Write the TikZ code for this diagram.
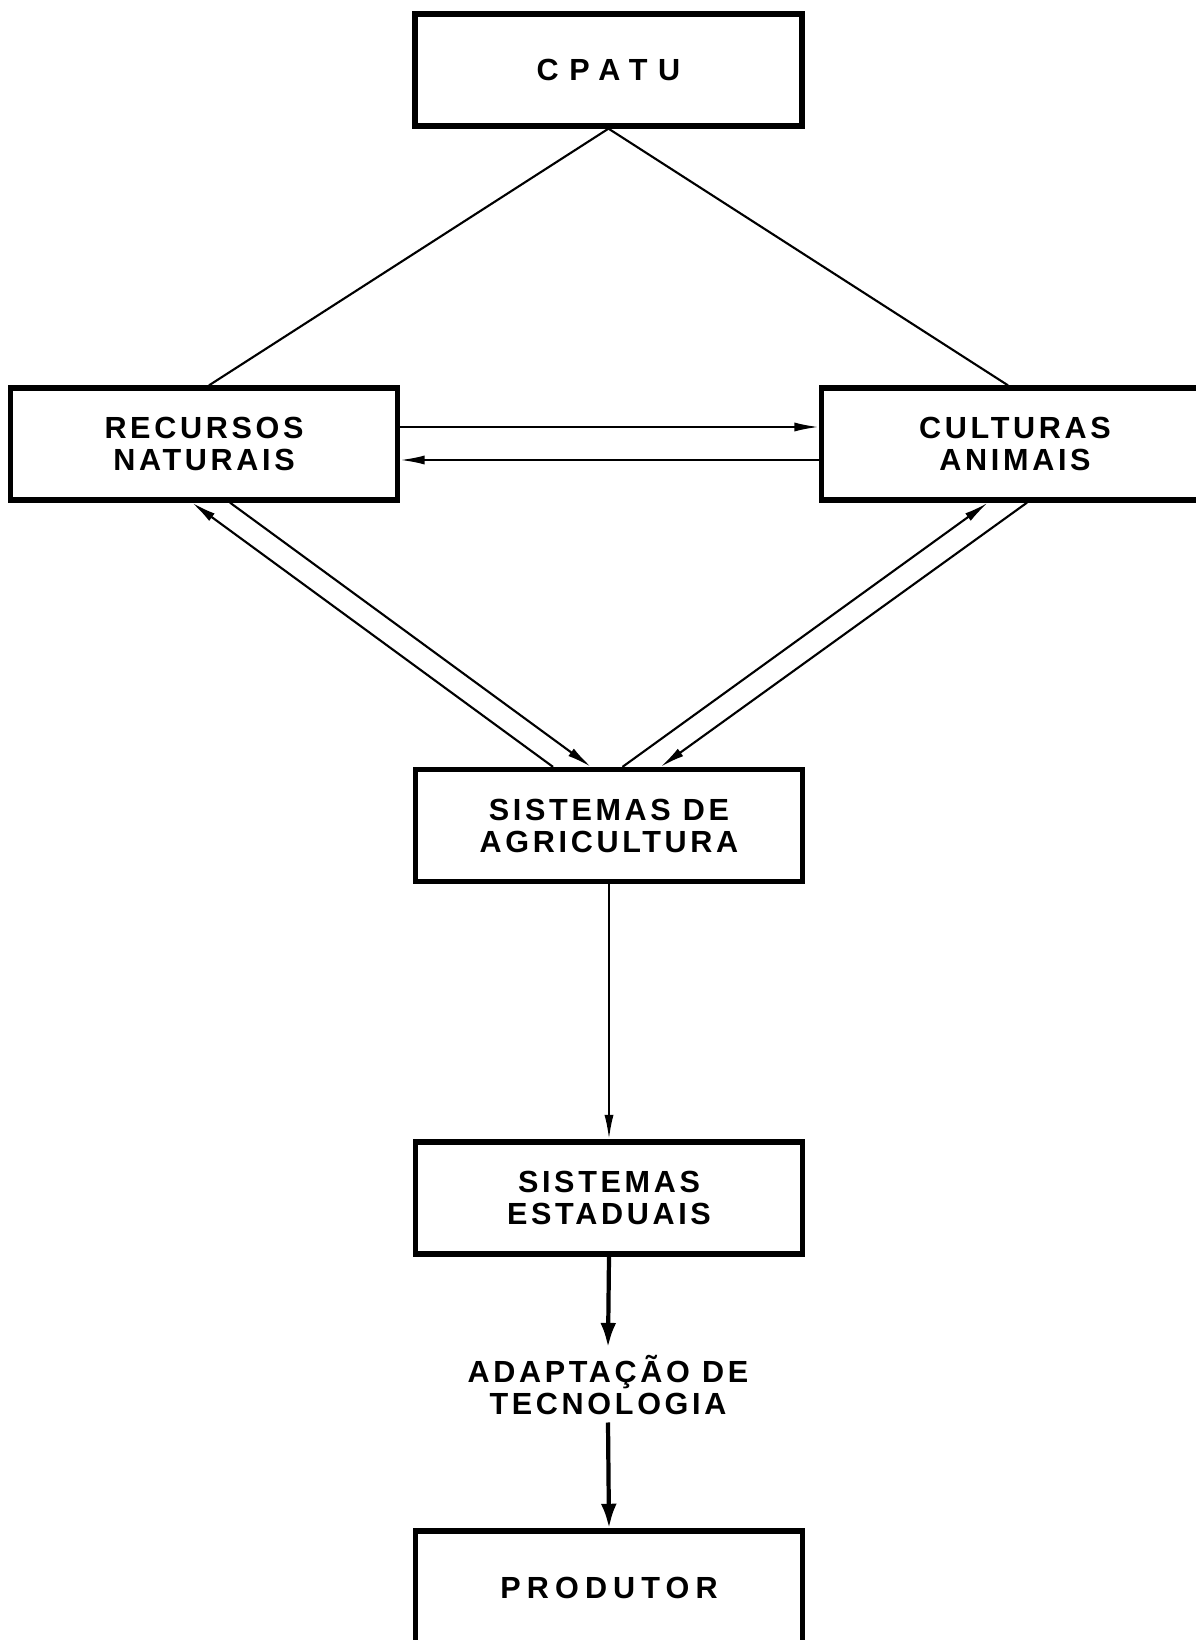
\documentclass[tikz,border=0pt]{standalone}
\usepackage{fontspec}
\setmainfont{Liberation Sans}
\usetikzlibrary{arrows.meta}

\begin{document}
\begin{tikzpicture}[x=1cm,y=-1cm,every text node part/.style={align=center}]
		\tikzstyle{bloco}=[rectangle,draw,line width=1.5pt,minimum width=3.87cm,
                  minimum height=1.12cm,inner sep=0pt]
		\tikzstyle{rotulo}=[font=\bfseries\fontsize{8.7}{9.1}\selectfont\addfontfeatures{LetterSpace=12}]
		\tikzstyle{linha}=[line width=0.6pt]
		\tikzstyle{seta}=[-{Latex[length=7pt,width=2.6pt]},line width=0.6pt]
		\tikzstyle{setagrossa}=[-{Latex[length=7pt,width=4.5pt]},line width=1.2pt]

		\useasboundingbox (0,0) rectangle (11.96,16.40);

		\node[bloco,rotulo] (cpatu) at (6.085,0.70) {\addfontfeatures{LetterSpace=35}CPATU};

     	\foreach \name/\x/\txt in {rec/2.04/{RECURSOS\\NATURAIS}, cul/10.15/{CULTURAS\\ANIMAIS}}
       		\node[bloco,rotulo] (\name) at (\x,4.44) {\txt};

     	\foreach \name/\y/\txt in {sag/8.255/{SISTEMAS DE\\AGRICULTURA}, sest/11.98/{SISTEMAS\\ESTADUAIS}}
       		\node[bloco,rotulo] (\name) at (6.09,\y) {\txt};

		\node[rotulo,inner sep=2pt] (adapt) at (6.08,13.85) {ADAPTAÇÃO DE\\TECNOLOGIA};
		\node[bloco,rotulo,minimum height=1.14cm] (prod) at (6.09,15.88) {\addfontfeatures{LetterSpace=20}PRODUTOR};

        % edges

        \draw[linha] (cpatu.south) -- ([xshift=0.05cm]rec.north);
        \draw[linha] (cpatu.south) -- ([xshift=-0.07cm]cul.north);

        \draw[seta] ([yshift=0.17cm]rec.east) -- ([yshift=0.17cm]cul.west);
        \draw[seta] ([yshift=-0.16cm]cul.west) -- ([yshift=-0.16cm]rec.east);

        \draw[seta] ([xshift=-0.56cm]sag.north) -- ([xshift=-0.12cm]rec.south);
        \draw[seta] ([xshift=0.26cm]rec.south) -- ([xshift=-0.18cm]sag.north);
        \draw[seta] ([xshift=0.135cm]sag.north) -- ([xshift=-0.27cm]cul.south);
        \draw[seta] ([xshift=0.12cm]cul.south) -- ([xshift=0.515cm]sag.north);

        \draw[seta] (sag.south) -- (sest.north);
        \draw[setagrossa] (sest.south) -- (adapt.north);
        \draw[setagrossa] (adapt.south) -- (prod.north);

	\end{tikzpicture}
\end{document}
